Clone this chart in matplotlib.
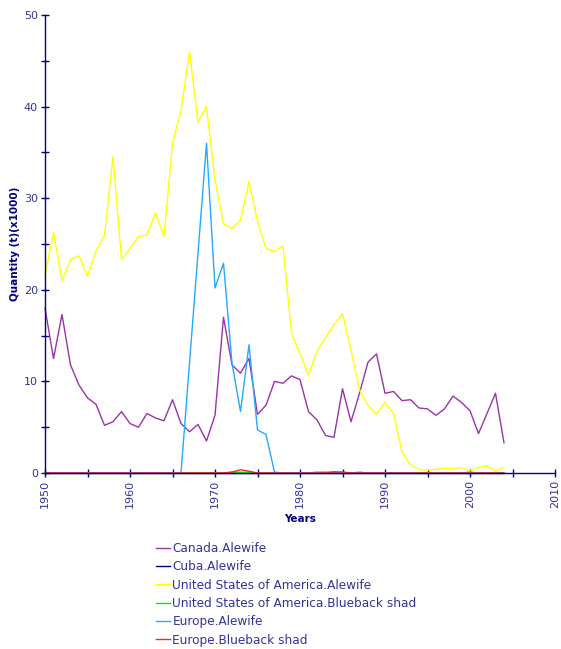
import matplotlib
matplotlib.use("Agg")
import matplotlib.pyplot as plt

years = list(range(1950, 2005))

canada_alewife = [18.0, 12.5, 17.3, 11.8, 9.6, 8.2, 7.5, 5.2, 5.6, 6.7,
                  5.4, 5.0, 6.5, 6.0, 5.7, 8.0, 5.4, 4.5, 5.3, 3.5,
                  6.3, 17.0, 11.8, 10.9, 12.5, 6.4, 7.4, 10.0, 9.8, 10.6,
                  10.2, 6.7, 5.8, 4.1, 3.9, 9.2, 5.6, 8.7, 12.1, 13.0,
                  8.7, 8.9, 7.9, 8.0, 7.1, 7.0, 6.3, 7.0, 8.4, 7.7,
                  6.8, 4.3, 6.5, 8.7, 3.3]

cuba_alewife = [0.0, 0.0, 0.0, 0.0, 0.0, 0.0, 0.0, 0.0, 0.0, 0.0,
                0.0, 0.0, 0.0, 0.0, 0.0, 0.0, 0.0, 0.0, 0.0, 0.0,
                0.0, 0.0, 0.0, 0.0, 0.0, 0.0, 0.0, 0.0, 0.0, 0.0,
                0.0, 0.0, 0.0, 0.0, 0.0, 0.0, 0.0, 0.0, 0.0, 0.0,
                0.0, 0.0, 0.0, 0.0, 0.0, 0.0, 0.0, 0.0, 0.0, 0.0,
                0.0, 0.0, 0.0, 0.0, 0.0]

usa_alewife = [21.6, 26.3, 21.0, 23.3, 23.7, 21.5, 24.2, 26.0, 34.5, 23.3,
               24.5, 25.8, 26.0, 28.4, 25.8, 36.0, 39.6, 46.0, 38.3, 40.0,
               32.0, 27.2, 26.7, 27.6, 31.8, 27.5, 24.5, 24.2, 24.8, 15.3,
               13.0, 10.7, 13.3, 14.8, 16.2, 17.4, 13.4, 9.1, 7.4, 6.4,
               7.7, 6.5, 2.3, 0.9, 0.4, 0.3, 0.4, 0.5, 0.5, 0.6,
               0.2, 0.6, 0.8, 0.2, 0.6]

usa_blueback = [0.0, 0.0, 0.0, 0.0, 0.0, 0.0, 0.0, 0.0, 0.0, 0.0,
                0.0, 0.0, 0.0, 0.0, 0.0, 0.0, 0.0, 0.0, 0.0, 0.0,
                0.0, 0.0, 0.08, 0.08, 0.08, 0.0, 0.0, 0.0, 0.0, 0.0,
                0.0, 0.0, 0.0, 0.0, 0.06, 0.0, 0.0, 0.0, 0.0, 0.0,
                0.0, 0.0, 0.0, 0.0, 0.0, 0.0, 0.0, 0.0, 0.0, 0.0,
                0.0, 0.0, 0.0, 0.0, 0.0]

europe_alewife = [0.0, 0.0, 0.0, 0.0, 0.0, 0.0, 0.0, 0.0, 0.0, 0.0,
                  0.0, 0.0, 0.0, 0.0, 0.0, 0.0, 0.0, 12.0, 24.0, 36.0,
                  20.2, 22.9, 12.0, 6.7, 14.0, 4.7, 4.2, 0.1, 0.0, 0.0,
                  0.0, 0.0, 0.1, 0.1, 0.1, 0.0, 0.0, 0.1, 0.0, 0.0,
                  0.0, 0.0, 0.0, 0.0, 0.0, 0.0, 0.0, 0.0, 0.0, 0.0,
                  0.1, 0.0, 0.0, 0.0, 0.0]

europe_blueback = [0.0, 0.0, 0.0, 0.0, 0.0, 0.0, 0.0, 0.0, 0.0, 0.0,
                   0.0, 0.0, 0.0, 0.0, 0.0, 0.0, 0.0, 0.0, 0.0, 0.0,
                   0.0, 0.0, 0.1, 0.35, 0.2, 0.0, 0.0, 0.0, 0.0, 0.0,
                   0.0, 0.0, 0.0, 0.0, 0.12, 0.12, 0.0, 0.0, 0.0, 0.0,
                   0.0, 0.0, 0.0, 0.0, 0.0, 0.0, 0.0, 0.0, 0.0, 0.0,
                   0.0, 0.0, 0.0, 0.0, 0.0]

labels = ["Canada.Alewife", "Cuba.Alewife", "United States of America.Alewife",
          "United States of America.Blueback shad", "Europe.Alewife", "Europe.Blueback shad"]
series = [canada_alewife, cuba_alewife, usa_alewife, usa_blueback, europe_alewife, europe_blueback]
colors = ["#9933AA", "#000080", "#FFFF00", "#00EE00", "#22AAFF", "#FF2222"]

navy = "#000080"
txt = "#333399"

fig = plt.figure(figsize=(5.61, 6.49), dpi=100)
ax = fig.add_axes([45/561, 1-473/649, 510/561, 458/649])

handles = []
for lab, ys, c in zip(labels, series, colors):
    h, = ax.plot(years, ys, color=c, lw=1.0, label=lab, clip_on=False)
    handles.append(h)

ax.set_xlim(1950, 2010)
ax.set_ylim(0, 50)
for s in ["top", "right"]:
    ax.spines[s].set_visible(False)
for s in ["left", "bottom"]:
    ax.spines[s].set_color(navy)
    ax.spines[s].set_linewidth(1.0)

ax.set_xticks(range(1950, 2011, 10))
ax.set_xticks(range(1955, 2010, 10), minor=True)
ax.set_yticks(range(0, 51, 10))
ax.set_yticks(range(5, 50, 10), minor=True)
ax.tick_params(axis="both", which="both", direction="inout", color=navy, width=1.0)
ax.tick_params(axis="both", which="major", length=6, labelsize=8, labelcolor=txt, pad=2)
ax.tick_params(axis="both", which="minor", length=6)
ax.tick_params(axis="x", which="major", labelrotation=90)

ax.set_xlabel("Years", fontsize=7.5, fontweight="bold", color=navy, labelpad=4)
ax.set_ylabel("Quantity (t)(x1000)", fontsize=7.5, fontweight="bold", color=navy, labelpad=3)

fig.legend(handles=handles, labels=labels, loc="upper left",
           bbox_to_anchor=(156/561, 1-542/649), frameon=False, fontsize=8.7,
           handlelength=1.15, handletextpad=0.2, labelspacing=0.44,
           labelcolor=txt, borderaxespad=0, borderpad=0)

fig.savefig("out.png", dpi=100)
